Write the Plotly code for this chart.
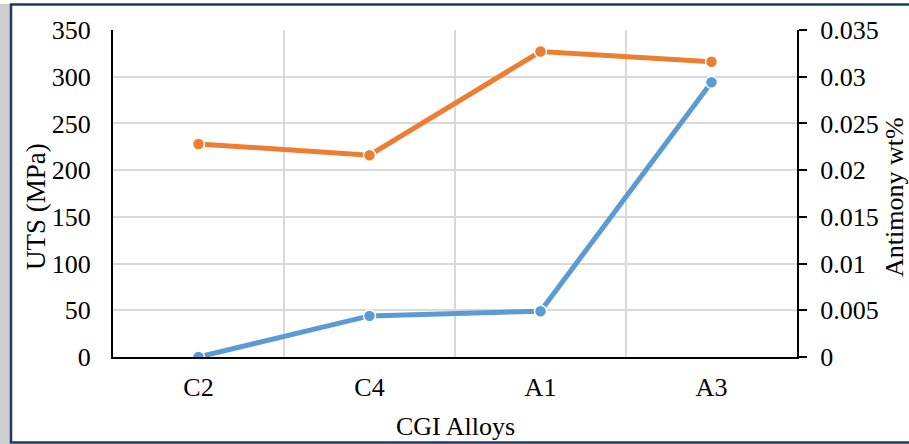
import plotly.graph_objects as go

categories = ["C2", "C4", "A1", "A3"]
uts_mpa = [228, 216, 327, 316]
antimony_wt = [0.0, 0.0044, 0.0049, 0.0294]
left_ticks = [0, 50, 100, 150, 200, 250, 300, 350]
right_tickvals = [0, 0.005, 0.01, 0.015, 0.02, 0.025, 0.03, 0.035]
right_ticktext = ["0", "0.005", "0.01", "0.015", "0.02", "0.025", "0.03", "0.035"]

W, H = 909, 444
L, R, T, B = 113, 112, 30, 87
pw, ph = W - L - R, H - T - B

def px(x):
    return (x - L) / pw

def py(y):
    return (H - B - y) / ph

FONT = "Liberation Serif"
xs = list(range(len(categories)))

fig = go.Figure()
fig.add_trace(go.Scatter(
    x=xs, y=uts_mpa, mode="lines+markers", name="UTS",
    line=dict(color="#ED7D31", width=5),
    marker=dict(size=12, color="#ED7D31", line=dict(color="white", width=1.5)),
    yaxis="y", showlegend=False))
fig.add_trace(go.Scatter(
    x=xs, y=antimony_wt, mode="lines+markers", name="Antimony",
    line=dict(color="#5B9BD5", width=5),
    marker=dict(size=12, color="#5B9BD5", line=dict(color="white", width=1.5)),
    yaxis="y2", showlegend=False))

fig.update_layout(
    width=W, height=H,
    margin=dict(l=L, r=R, t=T, b=B),
    paper_bgcolor="white", plot_bgcolor="white",
    font=dict(family=FONT, size=26, color="#000000"),
    xaxis=dict(
        range=[-0.5, 3.5], tickvals=xs, ticktext=categories,
        showgrid=False, zeroline=False,
        showline=True, linecolor="black", linewidth=2,
        ticks="", ticklabelstandoff=6,
        minor=dict(tick0=0.5, dtick=1, showgrid=True, gridcolor="#D9D9D9", gridwidth=2, ticks=""),
    ),
    yaxis=dict(
        range=[0, 350], tickvals=left_ticks,
        showgrid=True, gridcolor="#D9D9D9", gridwidth=2,
        zeroline=False, showline=True, linecolor="black", linewidth=2,
        ticks="", ticklabelstandoff=15,
    ),
    yaxis2=dict(
        range=[0, 0.035], tickvals=right_tickvals, ticktext=right_ticktext,
        overlaying="y", side="right",
        showgrid=False, zeroline=False,
        showline=True, linecolor="black", linewidth=2,
        ticks="outside", ticklen=8, tickwidth=2, tickcolor="black",
        ticklabelstandoff=8,
    ),
    annotations=[
        dict(text="UTS (MPa)", xref="paper", yref="paper", x=px(36), y=py(207),
             xanchor="center", yanchor="middle", textangle=-90, showarrow=False,
             font=dict(family=FONT, size=27)),
        dict(text="Antimony wt%", xref="paper", yref="paper", x=px(894), y=py(197),
             xanchor="center", yanchor="middle", textangle=-90, showarrow=False,
             font=dict(family=FONT, size=26)),
        dict(text="CGI Alloys", xref="paper", yref="paper", x=px(455), y=py(426),
             xanchor="center", yanchor="middle", showarrow=False,
             font=dict(family=FONT, size=26)),
    ],
    shapes=[
        dict(type="rect", xref="paper", yref="paper",
             x0=px(0), x1=px(10), y0=py(444), y1=py(4),
             fillcolor="#CFCFCF", line=dict(width=0), layer="below"),
        dict(type="rect", xref="paper", yref="paper",
             x0=px(11), x1=px(915), y0=py(442.5), y1=py(4.5),
             fillcolor="rgba(0,0,0,0)", line=dict(color="#1F3864", width=2.5)),
    ],
)

fig.write_html("out.html")
